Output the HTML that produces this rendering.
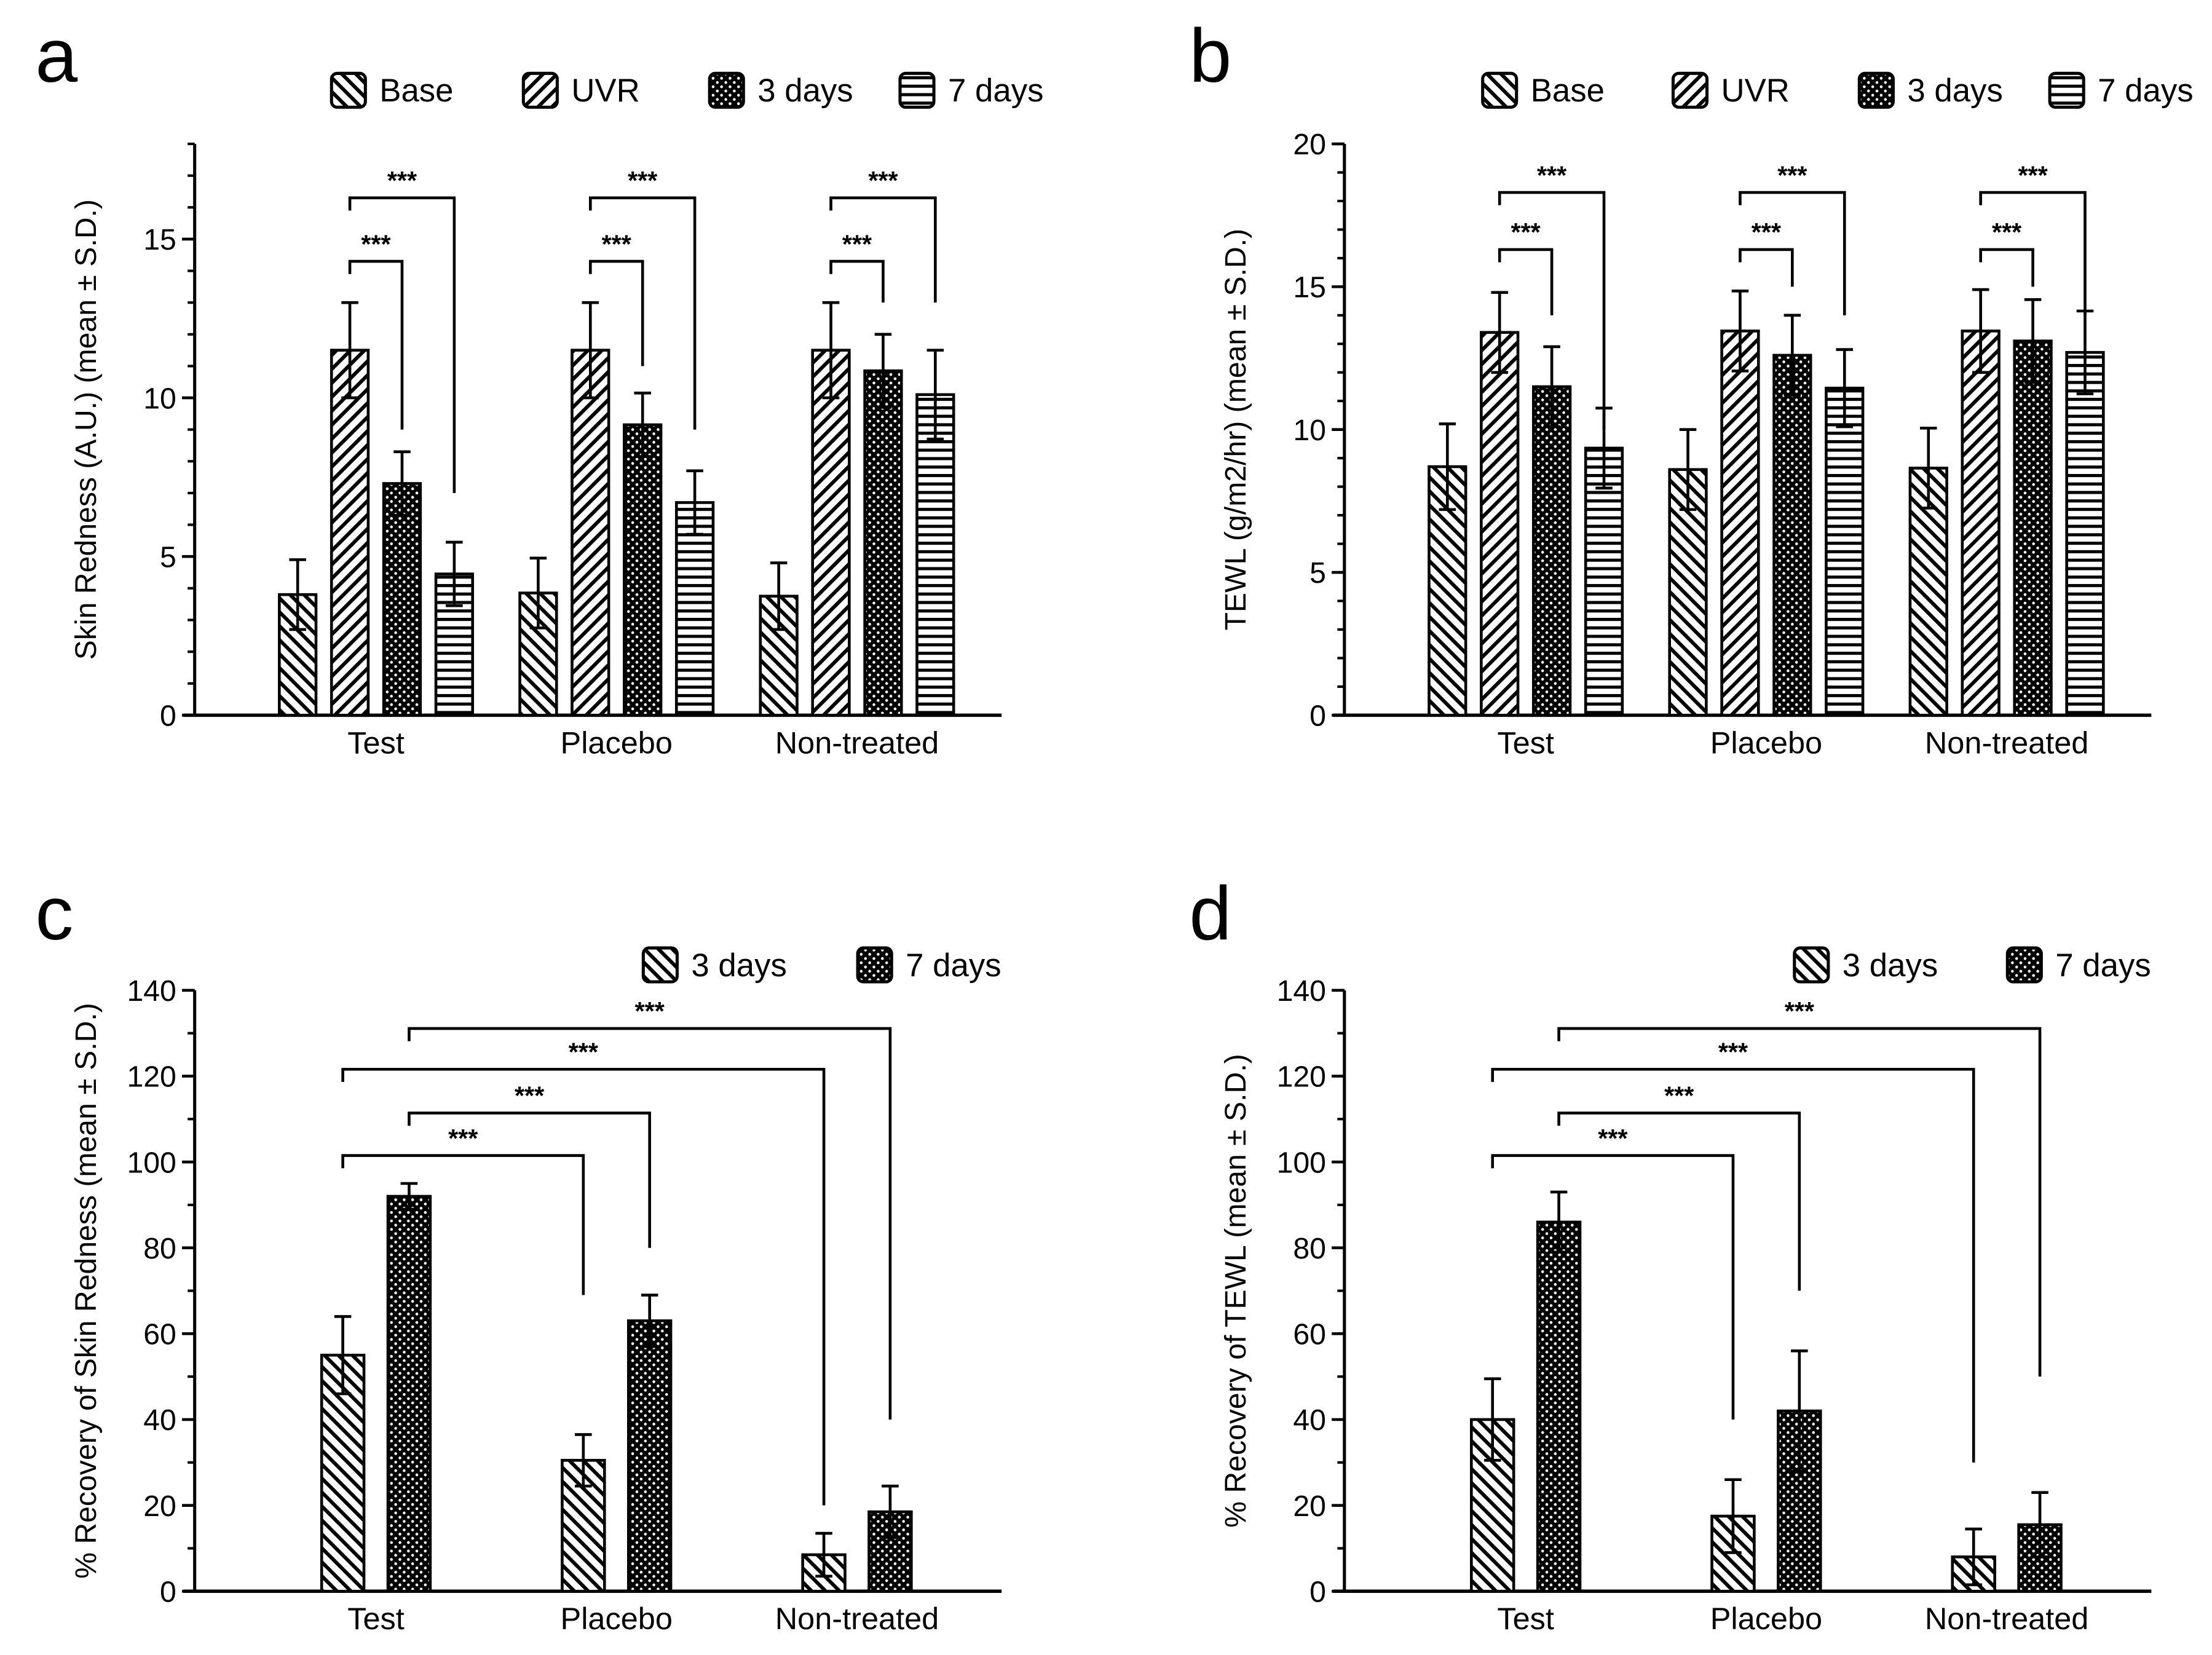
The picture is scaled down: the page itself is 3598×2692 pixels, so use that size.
<!DOCTYPE html>
<html><head><meta charset="utf-8"><style>
html,body{margin:0;padding:0;background:#fff;}
svg{display:block;}
text{font-family:"Liberation Sans",Arial,sans-serif;fill:#000;}
</style></head>
<body>
<svg id="fig" width="3598" height="2692" viewBox="0 0 1568 1173.2" preserveAspectRatio="none" xmlns="http://www.w3.org/2000/svg">
<defs>
<pattern id="pBack" patternUnits="userSpaceOnUse" width="7" height="7" patternTransform="rotate(-45)"><rect width="7" height="7" fill="#fff"/><rect x="0" y="0" width="2.6" height="7" fill="#000"/></pattern>
<pattern id="pFwd" patternUnits="userSpaceOnUse" width="7" height="7" patternTransform="rotate(45)"><rect width="7" height="7" fill="#fff"/><rect x="0" y="0" width="2.6" height="7" fill="#000"/></pattern>
<pattern id="pDot" patternUnits="userSpaceOnUse" width="6" height="6"><rect width="6" height="6" fill="#000"/><circle cx="1.5" cy="1.5" r="1" fill="#fff"/><circle cx="4.5" cy="4.5" r="1" fill="#fff"/></pattern>
<pattern id="pHor" patternUnits="userSpaceOnUse" width="6" height="6"><rect width="6" height="6" fill="#fff"/><rect x="0" y="0" width="6" height="2.2" fill="#000"/></pattern>
</defs>
</svg>
<script>
// ---- data ----
const groups = ["Test","Placebo","Non-treated"];
const seriesAB = ["Base","UVR","3 days","7 days"];
const seriesCD = ["3 days","7 days"];
// panel a: skin redness
const aMeans = [[3.8,11.5,7.3,4.45],[3.85,11.5,9.15,6.7],[3.75,11.5,10.85,10.1]];
const aSD = [[1.1,1.5,1.0,1.0],[1.1,1.5,1.0,1.0],[1.05,1.5,1.15,1.4]];
const aTicks = [0,5,10,15];
// panel b: TEWL
const bMeans = [[8.7,13.4,11.5,9.35],[8.6,13.45,12.6,11.45],[8.65,13.45,13.1,12.7]];
const bSD = [[1.5,1.4,1.4,1.4],[1.4,1.4,1.4,1.35],[1.4,1.45,1.45,1.45]];
const bTicks = [0,5,10,15,20];
// panel c: % recovery skin redness
const cMeans = [[55,92],[30.5,63],[8.5,18.5]];
const cSD = [[9,3],[6,6],[5,6]];
// panel d: % recovery TEWL
const dMeans = [[40,86],[17.5,42],[8,15.5]];
const dSD = [[9.5,7],[8.5,14],[6.5,7.5]];
const cdTicks = [0,20,40,60,80,100,120,140];
// significance brackets: [group, fromBar, toBar, level, endValue]
const aBrackets = [[0,1,2,14.3,9],[0,1,3,16.3,7],[1,1,2,14.3,11],[1,1,3,16.3,9],[2,1,2,14.3,13],[2,1,3,16.3,13]];
const bBrackets = [[0,1,2,16.3,14],[0,1,3,18.3,10],[1,1,2,16.3,15],[1,1,3,18.3,14],[2,1,2,16.3,15],[2,1,3,18.3,14]];
// cross-group brackets: [fromGroup, fromBar, toGroup, toBar, level, endValue]
const cBrackets = [[0,0,1,0,101.5,69],[0,1,1,1,111.4,80],[0,0,2,0,121.6,20],[0,1,2,1,131.1,40]];
const dBrackets = [[0,0,1,0,101.5,40],[0,1,1,1,111.4,70],[0,0,2,0,121.6,30],[0,1,2,1,131.1,50]];

const NS="http://www.w3.org/2000/svg";
const svg=document.getElementById('fig');
function el(tag,attrs,parent){const e=document.createElementNS(NS,tag);for(const k in attrs)e.setAttribute(k,attrs[k]);(parent||svg).appendChild(e);return e;}
function txt(s,attrs,parent){const t=el('text',attrs,parent);t.textContent=s;return t;}
const fillsAB=['url(#pBack)','url(#pFwd)','url(#pDot)','url(#pHor)'];
const fillsCD=['url(#pBack)','url(#pDot)'];

function panel(o){
  const g=el('g',{});
  
  
  const y=v=>o.y0-(v-o.min)*(o.y0-o.yTop)/(o.max-o.min);
  const bx=(gi,bi)=>o.gx0+gi*o.gStep+(bi-(o.nb-1)/2)*o.bStep;
  const L=txt(o.letter,{x:o.letterX,y:o.letterY,'font-size':54},g);
  
  
  const ya=el('line',{x1:o.ax,y1:o.yTop,x2:o.ax,y2:o.y0+1,stroke:'#000','stroke-width':2.2},g);
  
  
  const xa=el('line',{x1:o.ax-8,y1:o.y0,x2:o.xEnd,y2:o.y0,stroke:'#000','stroke-width':2.4},g);
  
  
  for(let v=o.min;v<=o.max+1e-9;v+=o.minor){
    el('line',{x1:o.ax-5,y1:y(v),x2:o.ax,y2:y(v),stroke:'#000','stroke-width':1.8},g);
  }
  o.ticks.forEach(v=>{
    el('line',{x1:o.ax-9,y1:y(v),x2:o.ax,y2:y(v),stroke:'#000','stroke-width':2},g);
    const t=txt(String(v),{x:o.ax-13,y:y(v)+7.5,'font-size':21,'text-anchor':'end'},g);
    
    
  });
  const yt=txt(o.ytitle,{x:0,y:0,'font-size':21,'text-anchor':'middle',transform:`translate(${o.ax-70},${(o.y0+o.yTop)/2}) rotate(-90)`},g);
  
  
  groups.forEach((gn,gi)=>{
    const gl=txt(gn,{x:o.gx0+gi*o.gStep,y:o.y0+27,'font-size':22,'text-anchor':'middle'},g);
    
    
    o.means[gi].forEach((m,bi)=>{
      const cx=bx(gi,bi),w=o.bw;
      const r=el('rect',{x:cx-w/2,y:y(m),width:w,height:o.y0-y(m),fill:o.fills[bi],stroke:'#000','stroke-width':2},g);
      
      
      const sd=o.sd[gi][bi];
      const eb=el('path',{d:`M${cx},${y(m-sd)}V${y(m+sd)}M${cx-6},${y(m+sd)}H${cx+6}M${cx-6},${y(m-sd)}H${cx+6}`,stroke:'#000','stroke-width':2,fill:'none'},g);
      
      
    });
  });
  o.brackets.forEach(b=>{
    let x1,x2,lvl,end;
    if(b.length===5){x1=bx(b[0],b[1]);x2=bx(b[0],b[2]);lvl=b[3];end=b[4];}
    else{x1=bx(b[0],b[1]);x2=bx(b[2],b[3]);lvl=b[4];end=b[5];}
    const yl=y(lvl);
    const p=el('path',{d:`M${x1},${yl+9}V${yl}H${x2}V${y(end)}`,stroke:'#000','stroke-width':2,fill:'none'},g);
    
    
    const sx=(x1+x2)/2;
    const s=txt('***',{x:sx,y:yl-6,'font-size':18,'text-anchor':'middle','font-weight':'bold'},g);
    
    
  });
  o.series.forEach((sn,i)=>{
    const lx=o.legX[i];
    const lg=el('g',{},g);
    
    
    el('rect',{x:lx-12,y:o.legY-12,width:24,height:24,rx:4,fill:o.fills[i],stroke:'#000','stroke-width':2.2},lg);
    txt(sn,{x:lx+22,y:o.legY+8,'font-size':23},lg);
  });
}

panel({name:'panel-a',letter:'a',letterX:25,letterY:58,ax:138,y0:507,yTop:102,min:0,max:18,minor:1,ticks:aTicks,
  ytitle:'Skin Redness (A.U.) (mean ± S.D.)',xEnd:710,gx0:266.5,gStep:170.5,nb:4,bStep:37,bw:26,
  means:aMeans,sd:aSD,series:seriesAB,fills:fillsAB,brackets:aBrackets,legX:[247,383,515,650],legY:64});
panel({name:'panel-b',letter:'b',letterX:843,letterY:58,ax:953,y0:507,yTop:102,min:0,max:20,minor:1,ticks:bTicks,
  ytitle:'TEWL (g/m2/hr) (mean ± S.D.)',xEnd:1525,gx0:1081.5,gStep:170.5,nb:4,bStep:37,bw:26,
  means:bMeans,sd:bSD,series:seriesAB,fills:fillsAB,brackets:bBrackets,legX:[1063,1198,1330,1465],legY:64});
panel({name:'panel-c',letter:'c',letterX:25,letterY:666,ax:138,y0:1128,yTop:702,min:0,max:140,minor:10,ticks:cdTicks,
  ytitle:'% Recovery of Skin Redness (mean ± S.D.)',xEnd:710,gx0:266.5,gStep:170.5,nb:2,bStep:47,bw:30,
  means:cMeans,sd:cSD,series:seriesCD,fills:fillsCD,brackets:cBrackets,legX:[468,620],legY:684});
panel({name:'panel-d',letter:'d',letterX:843,letterY:666,ax:953,y0:1128,yTop:702,min:0,max:140,minor:10,ticks:cdTicks,
  ytitle:'% Recovery of TEWL (mean ± S.D.)',xEnd:1525,gx0:1081.5,gStep:170.5,nb:2,bStep:47,bw:30,
  means:dMeans,sd:dSD,series:seriesCD,fills:fillsCD,brackets:dBrackets,legX:[1284,1435],legY:684});
</script>
</body></html>
